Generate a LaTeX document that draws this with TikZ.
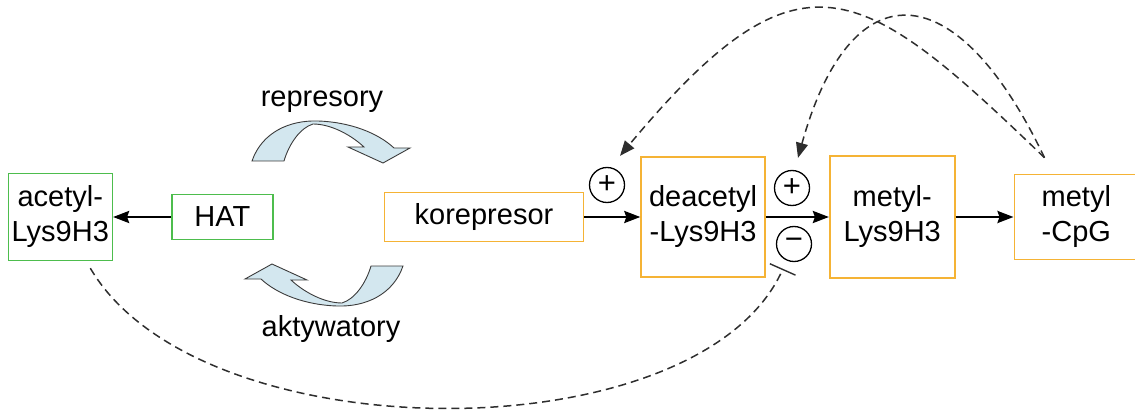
\documentclass[tikz,border=0pt]{standalone}
\usepackage{fontspec}
\setmainfont{Liberation Sans}
\usetikzlibrary{arrows.meta,positioning,calc}
\definecolor{BoxGreen}{HTML}{4DBD4D}
\definecolor{BoxAmber}{HTML}{F5B335}
\definecolor{SwirlFill}{HTML}{D3E7EF}
\definecolor{SwirlLine}{HTML}{3C3C3C}
\definecolor{DashGrey}{HTML}{2E2E2E}

\begin{document}
\begin{tikzpicture}[
  x=1pt,y=-1pt,
  every node/.style={font=\fontsize{29}{35}\selectfont},
  box/.style={draw,line width=1.6pt,align=center,inner sep=1pt},
  gbox/.style={box,draw=BoxGreen},
  obox/.style={box,draw=BoxAmber},
  sign/.style={circle,draw,line width=1.3pt,minimum size=35pt,inner sep=0pt,font=\fontsize{31}{31}\selectfont},
  flow/.style={line width=2.4pt,-{Stealth[length=16pt,width=12pt,inset=2pt]}},
  feedback/.style={draw=DashGrey,line width=1.5pt,dash pattern=on 8pt off 5pt,-{Triangle[length=15pt,width=12pt]}},
  block/.style={draw=DashGrey,line width=1.5pt,dash pattern=on 8pt off 5pt,-{Bar[width=28pt,line width=1.4pt]},shorten >=9pt,shorten <=8pt},
  swirl/.pic={\filldraw[fill=SwirlFill,draw=SwirlLine,line width=0.9pt]
    (252,161) .. controls (262,132) and (290,120) .. (318,121)
    .. controls (350,122) and (378,133) .. (394,148) -- (410,148) -- (383,163) -- (348,147) -- (364,147)
    .. controls (350,134) and (330,124) .. (313,124)
    .. controls (300,128) and (289,144) .. (284,161) -- cycle;}
]
\useasboundingbox (0,0) rectangle (1135,414);
\node[obox,minimum width=199pt,minimum height=49pt] (korepresor) at (484,217) {korepresor};
\node[obox,minimum width=124pt,minimum height=120pt,right=56pt of korepresor] (deacetyl) {deacetyl\\-Lys9H3};
\node[obox,minimum width=125pt,minimum height=122pt,right=63pt of deacetyl] (metylLys) {metyl-\\Lys9H3};
\node[obox,minimum width=124pt,minimum height=85pt,right=58pt of metylLys] (metylCpG) {metyl\\-CpG};
\node[gbox,minimum width=101pt,minimum height=45pt,left=110pt of korepresor] (HAT) {HAT};
\node[gbox,minimum width=104pt,minimum height=87pt,left=58pt of HAT] (acetyl) {acetyl-\\Lys9H3};

\node[sign] (plusA) at (607,185) {+};
\node[sign] (plusB) at (792,188) {+};
\node[sign] (minus) at (794,244) {−};

\pic at (0,0) {swirl};
\pic[rotate=180] at (655,427) {swirl};
\node (represory) at (322,102) {represory};
\node (aktywatory) at (331,329) {aktywatory};

\draw[flow] (HAT) -- (acetyl);
\draw[flow] (korepresor) -- (deacetyl);
\draw[flow] (deacetyl) -- (metylLys);
\draw[flow] (metylLys) -- (metylCpG);

\coordinate (fork) at ($(metylCpG.north west)+(31,-16)$);
\draw[feedback] (fork) .. controls (860,-20) and (800,-60) .. ($(plusA.north)+(13,-11)$);
\draw[feedback] (fork) .. controls (955,-30) and (850,-30) .. ($(plusB.north)+(6,-12)$);
\draw[block] (acetyl) .. controls (200,455) and (700,455) .. (minus);
\end{tikzpicture}
\end{document}
